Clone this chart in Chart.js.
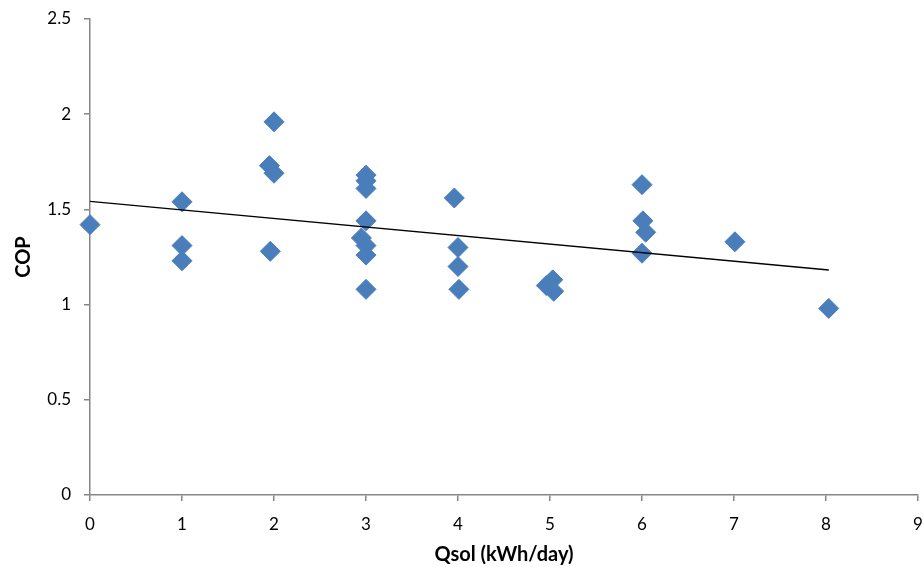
<!DOCTYPE html>
<html>
<head>
<meta charset="utf-8">
<title>COP vs Qsol</title>
<script src="https://cdn.jsdelivr.net/npm/chart.js@4.4.1/dist/chart.umd.min.js"></script>
<style>
  html, body { margin: 0; padding: 0; background: #fff; }
  #wrap { width: 923px; height: 567px; }
</style>
</head>
<body>
<div id="wrap"><canvas id="copChart" width="923" height="567"></canvas></div>
<script>
// daily solar gain (kWh/day) and measured COP
var qsol = [0,
	1, 1, 1,
	1.95, 2, 2, 1.96,
	3, 3, 3, 3, 2.95, 3, 3, 3,
	3.96, 4, 4, 4.01,
	4.96, 5.03, 5.04,
	6, 6.01, 6.04, 6,
	7.01,
	8.03];
var cop = [1.42,
	1.54, 1.31, 1.23,
	1.73, 1.69, 1.96, 1.28,
	1.68, 1.65, 1.61, 1.44, 1.35, 1.31, 1.26, 1.08,
	1.56, 1.30, 1.20, 1.08,
	1.10, 1.13, 1.07,
	1.63, 1.44, 1.38, 1.27,
	1.33,
	0.98];
var xTicks = [0, 1, 2, 3, 4, 5, 6, 7, 8, 9];
var yTicks = [0, 0.5, 1, 1.5, 2, 2.5];

(function(window, document, undefined) {
	var points = qsol.map(function(x, i) {
		return { x: x, y: cop[i] };
	});

	// least squares fit for the trend line
	function linearFit() {
		var n = points.length, sx = 0, sy = 0, sxx = 0, sxy = 0;
		points.forEach(function(p) {
			sx += p.x; sy += p.y;
			sxx += p.x * p.x; sxy += p.x * p.y;
		});
		var slope = (n * sxy - sx * sy) / (n * sxx - sx * sx);
		var intercept = (sy - slope * sx) / n;
		var xMax = Math.max.apply(null, qsol);
		return [
			{ x: 0, y: intercept },
			{ x: xMax, y: intercept + slope * xMax }
		];
	}

	// tick labels may hang over the plot box edges
	function noScalePadding(scale) {
		scale.paddingLeft = 0;
		scale.paddingRight = 0;
		scale.paddingTop = 0;
		scale.paddingBottom = 0;
	}

	var axisGrey = '#868686';
	var tickFont = { family: 'Lato, "Open Sans", sans-serif', size: 17 };
	var titleFont = { family: 'Lato, "Open Sans", sans-serif', size: 20, weight: 'bold' };

	var ctx = document.querySelector('#copChart');
	var chart = new Chart(ctx, {
		type: 'scatter',
		data: {
			datasets: [{
				label: 'Linear (COP)',
				data: linearFit(),
				showLine: true,
				borderColor: '#000',
				borderWidth: 1.3,
				pointRadius: 0,
				order: 0
			}, {
				label: 'COP',
				data: points,
				pointStyle: 'rectRot',
				pointRadius: 10,
				backgroundColor: '#4a7ebb',
				borderColor: '#4a7ebb',
				borderWidth: 1,
				clip: false,
				order: 1
			}]
		},
		options: {
			responsive: false,
			animation: false,
			layout: { autoPadding: false, padding: { top: 19, right: 5, left: 0, bottom: 0 } },
			plugins: {
				legend: { display: false },
				tooltip: { enabled: false }
			},
			scales: {
				x: {
					type: 'linear',
					min: 0,
					max: 9,
					afterBuildTicks: function(scale) {
						scale.ticks = xTicks.map(function(v) { return { value: v }; });
					},
					afterFit: function(scale) {
						scale.height = 72;
						noScalePadding(scale);
					},
					border: { color: axisGrey, width: 1.5 },
					grid: { drawOnChartArea: false, drawTicks: true, tickLength: 6, color: axisGrey, lineWidth: 1.5 },
					ticks: { color: '#000', font: tickFont, padding: 13, maxRotation: 0 },
					title: { display: true, text: 'Qsol (kWh/day)', color: '#000', font: titleFont, padding: { top: 0, bottom: 0 } }
				},
				y: {
					type: 'linear',
					min: 0,
					max: 2.5,
					afterBuildTicks: function(scale) {
						scale.ticks = yTicks.map(function(v) { return { value: v }; });
					},
					afterFit: function(scale) {
						scale.width = 90;
						noScalePadding(scale);
					},
					border: { color: axisGrey, width: 1.5 },
					grid: { drawOnChartArea: false, drawTicks: true, tickLength: 6, color: axisGrey, lineWidth: 1.5 },
					ticks: {
						color: '#000',
						font: tickFont,
						padding: 13,
						callback: function(value) { return String(value); }
					},
					title: { display: true, text: 'COP', color: '#000', font: titleFont, padding: { top: 12, bottom: 0 } }
				}
			}
		}
	});
})(window, document);
</script>
</body>
</html>
